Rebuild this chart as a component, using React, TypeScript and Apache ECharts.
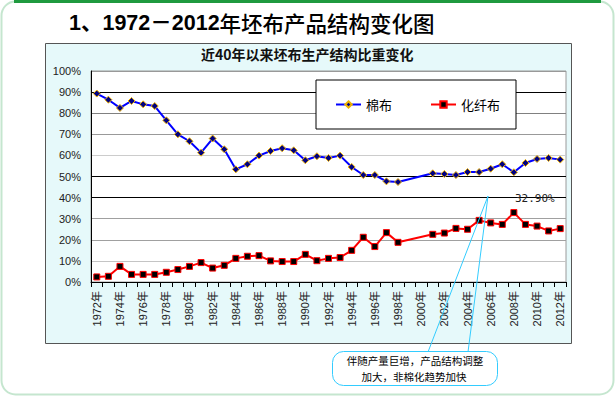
import React, { useEffect, useRef } from "react";
import * as echarts from "echarts";

const years = [
  "1972年", "1973年", "1974年", "1975年", "1976年", "1977年", "1978年", "1979年", "1980年", "1981年",
  "1982年", "1983年", "1984年", "1985年", "1986年", "1987年", "1988年", "1989年", "1990年", "1991年",
  "1992年", "1993年", "1994年", "1995年", "1996年", "1997年", "1998年", "1999年", "2000年", "2001年",
  "2002年", "2003年", "2004年", "2005年", "2006年", "2007年", "2008年", "2009年", "2010年", "2011年",
  "2012年",
];

const cotton: (number | null)[] = [
  89.3, 86.4, 82.5, 85.8, 84.2, 83.4, 76.6, 70.0, 66.7, 61.3,
  68.0, 62.9, 53.4, 55.8, 59.9, 62.1, 63.4, 62.4, 57.7, 59.6,
  58.8, 59.9, 54.5, 50.7, 50.7, 47.7, 47.4, null, null, 51.5,
  51.2, 50.7, 52.1, 52.1, 53.7, 55.8, 52.0, 56.4, 58.3, 58.8,
  58.0,
];

const synthetic: (number | null)[] = [
  2.4, 2.7, 7.4, 3.6, 3.6, 3.6, 4.6, 5.9, 7.4, 9.2,
  6.6, 7.9, 11.2, 12.2, 12.5, 10.0, 9.7, 9.7, 13.1, 10.1,
  11.2, 11.6, 15.0, 21.2, 16.8, 23.4, 18.8, null, null, 22.6,
  23.2, 25.4, 25.0, 29.2, 28.0, 27.3, 32.9, 27.3, 26.5, 24.2,
  25.3,
];

const seriesNames = ["棉布", "化纤布"];
const labelledYear = "2008年";
const labelledText = "32.90%";
const mainTitleA = "1、1972－2012";
const mainTitleB = "年坯布产品结构变化图";
const chartTitle = "近40年以来坯布生产结构比重变化";
const calloutLine1 = "伴随产量巨增，产品结构调整";
const calloutLine2 = "加大，非棉化趋势加快";

const gridColors = [
  "#000000", "#c4c4c4", "#a0a0a0", "#a0a0a0", "#000000", "#000000",
  "#cccccc", "#999999", "#808080", "#000000", "#999999",
];

const SANS = "'Liberation Sans', Arial, 'Noto Sans CJK SC', sans-serif";
const CJK = "'Noto Sans CJK SC', 'Liberation Sans', sans-serif";

export default function App() {
  const ref = useRef<HTMLDivElement>(null);

  useEffect(() => {
    document.body.style.margin = "0";
    if (!ref.current) return;
    const chart = echarts.init(ref.current, undefined, { renderer: "svg" });

    const synData = synthetic.map((v, i) =>
      years[i] === labelledYear
        ? {
            value: v,
            label: {
              show: true,
              position: "top",
              offset: [21, 0],
              formatter: labelledText,
              fontFamily: "'DejaVu Sans Mono', 'Liberation Mono', monospace",
              fontSize: 11,
              color: "#222",
            },
          }
        : v
    );

    chart.setOption({
      animation: false,
      backgroundColor: "#ffffff",
      title: [
        {
          text: `{a|${mainTitleA}}{b|${mainTitleB}}`,
          left: 69,
          top: 12,
          padding: 0,
          textStyle: {
            rich: {
              a: { fontFamily: SANS, fontWeight: "bold", fontSize: 21.5, color: "#000" },
              b: { fontFamily: CJK, fontWeight: 500, fontSize: 21.5, color: "#000" },
            },
          },
        },
        {
          text: chartTitle,
          left: 201,
          top: 47,
          padding: 0,
          textStyle: { fontFamily: CJK, fontWeight: "bold", fontSize: 14, color: "#111" },
        },
      ],
      legend: {
        left: 316,
        top: 80,
        padding: [18, 16, 18, 19],
        itemGap: 38,
        itemWidth: 25,
        itemHeight: 8,
        backgroundColor: "#ffffff",
        borderColor: "#000000",
        borderWidth: 1,
        textStyle: { fontFamily: CJK, fontSize: 13, color: "#000" },
        data: seriesNames,
      },
      grid: {
        left: 91,
        right: 49,
        top: 71,
        bottom: 115,
        show: true,
        backgroundColor: "#ffffff",
        borderColor: "#9a9a9a",
        borderWidth: 1,
      },
      xAxis: {
        type: "category",
        data: years,
        boundaryGap: true,
        axisLine: { lineStyle: { color: "#000", width: 1 } },
        axisTick: { show: true, interval: 0, length: 5, lineStyle: { color: "#000" } },
        axisLabel: {
          interval: 1,
          rotate: 90,
          margin: 9,
          fontFamily: SANS,
          fontSize: 11,
          color: "#222",
        },
      },
      yAxis: {
        type: "value",
        min: 0,
        max: 100,
        interval: 10,
        axisLine: { show: true, lineStyle: { color: "#000", width: 1 } },
        axisTick: { show: false },
        axisLabel: {
          formatter: "{value}%",
          fontFamily: SANS,
          fontSize: 11,
          color: "#222",
          margin: 10,
        },
        splitLine: { show: true, lineStyle: { color: gridColors, width: 1 } },
      },
      series: [
        {
          name: seriesNames[0],
          type: "line",
          data: cotton,
          connectNulls: true,
          showAllSymbol: true,
          symbol: "diamond",
          symbolSize: 7,
          lineStyle: { color: "#0000ff", width: 2 },
          itemStyle: { color: "#000080", borderColor: "#f0b400", borderWidth: 1 },
          z: 3,
        },
        {
          name: seriesNames[1],
          type: "line",
          data: synData,
          connectNulls: true,
          showAllSymbol: true,
          symbol: "rect",
          symbolSize: 6,
          lineStyle: { color: "#ff0000", width: 2 },
          itemStyle: { color: "#000000", borderColor: "#ff0000", borderWidth: 1 },
          z: 3,
        },
      ],
      graphic: [
        {
          type: "rect",
          z: -10,
          shape: { x: 1.5, y: 1.5, width: 612, height: 393, r: 14 },
          style: { fill: "#ffffff", stroke: "#c5e6cf", lineWidth: 2 },
        },
        {
          type: "line",
          z: -9,
          shape: { x1: 14, y1: 1.5, x2: 601, y2: 1.5 },
          style: { stroke: "#1f9a3f", lineWidth: 3 },
        },
        {
          type: "rect",
          z: -8,
          shape: { x: 45.5, y: 43.5, width: 526, height: 300 },
          style: { fill: "#e6f9fa", stroke: "#555555", lineWidth: 1 },
        },
        {
          type: "line",
          z: 50,
          shape: { x1: 428, y1: 352, x2: 488, y2: 196 },
          style: { stroke: "#33ccff", lineWidth: 1 },
        },
        {
          type: "line",
          z: 50,
          shape: { x1: 468, y1: 352, x2: 488, y2: 196 },
          style: { stroke: "#33ccff", lineWidth: 1 },
        },
        {
          type: "rect",
          z: 51,
          shape: { x: 332.5, y: 351.5, width: 165, height: 34, r: 11 },
          style: { fill: "#ffffff", stroke: "#33ccff", lineWidth: 1 },
        },
        {
          type: "text",
          z: 52,
          x: 415,
          y: 360,
          style: {
            text: calloutLine1,
            align: "center",
            verticalAlign: "middle",
            fontFamily: CJK,
            fontSize: 10.5,
            fill: "#000",
          },
        },
        {
          type: "text",
          z: 52,
          x: 414,
          y: 376,
          style: {
            text: calloutLine2,
            align: "center",
            verticalAlign: "middle",
            fontFamily: CJK,
            fontSize: 10.5,
            fill: "#000",
          },
        },
      ],
    });

    return () => chart.dispose();
  }, []);

  return <div ref={ref} style={{ width: 615, height: 397 }} />;
}
